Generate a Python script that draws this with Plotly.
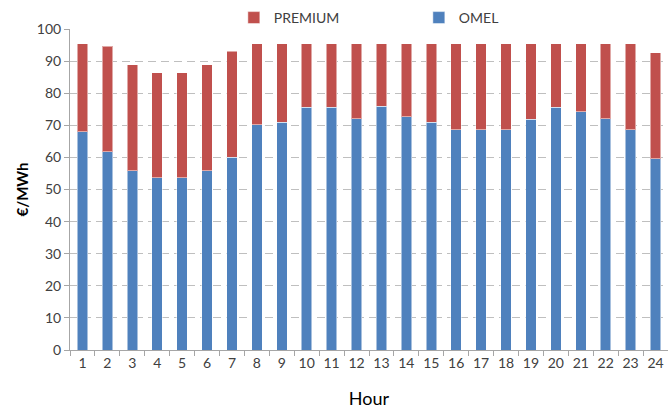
import plotly.graph_objects as go

hours = [str(h) for h in range(1, 25)]
omel = [68, 61.8, 55.8, 53.6, 53.6, 55.8, 60.1, 70.1, 70.9, 75.6, 75.6, 72.1,
        75.9, 72.6, 70.9, 68.6, 68.6, 68.6, 71.9, 75.6, 74.3, 72.1, 68.6, 59.6]
total = [95.4, 94.7, 88.8, 86.3, 86.3, 88.8, 93.1, 95.4, 95.4, 95.4, 95.4, 95.4,
         95.4, 95.4, 95.4, 95.4, 95.4, 95.4, 95.4, 95.4, 95.4, 95.4, 95.4, 92.6]
premium = [round(t - o, 1) for t, o in zip(total, omel)]

BLUE = "#4F81BD"
RED = "#C0504D"
FONT = "Lato"

fig = go.Figure()
fig.add_trace(go.Bar(x=hours, y=omel, name="OMEL", marker=dict(color=BLUE, line=dict(color="rgba(255,255,255,0.5)", width=1))))
fig.add_trace(go.Bar(x=hours, y=premium, name="PREMIUM", marker=dict(color=RED, line=dict(color="rgba(255,255,255,0.5)", width=1))))

fig.update_layout(
    width=668, height=414,
    barmode="stack", bargap=0.58,
    margin=dict(l=70, r=0, t=29, b=64, autoexpand=False),
    plot_bgcolor="white", paper_bgcolor="white",
    font=dict(family=FONT, size=14, color="#404040"),
    legend=dict(orientation="h", traceorder="reversed", x=0.274, xanchor="left",
                yref="container", y=1 - 18 / 414, yanchor="middle",
                entrywidth=140, entrywidthmode="pixels",
                font=dict(size=14, color="#404040"), itemclick=False),
    showlegend=True,
)
fig.update_xaxes(
    type="category", showline=True, linecolor="#A6A6A6", linewidth=1,
    ticks="outside", tickson="boundaries", ticklen=5, tickcolor="#A6A6A6",
    showgrid=False, tickangle=0,
    title=dict(text="Hour", font=dict(size=18, color="#000000"), standoff=22),
    tickfont=dict(size=14, color="#404040"),
)
fig.update_yaxes(
    range=[0, 100], dtick=10, showline=True, linecolor="#A6A6A6", linewidth=1,
    ticks="outside", ticklen=5, tickcolor="#A6A6A6",
    showgrid=True, gridcolor="#BFBFBF", griddash="8px,5px", gridwidth=1,
    zeroline=False,
    title=dict(text="<b>€/MWh</b>", font=dict(size=15, color="#000000"), standoff=4),
    tickfont=dict(size=14, color="#404040"),
)

fig.write_html("out.html")
